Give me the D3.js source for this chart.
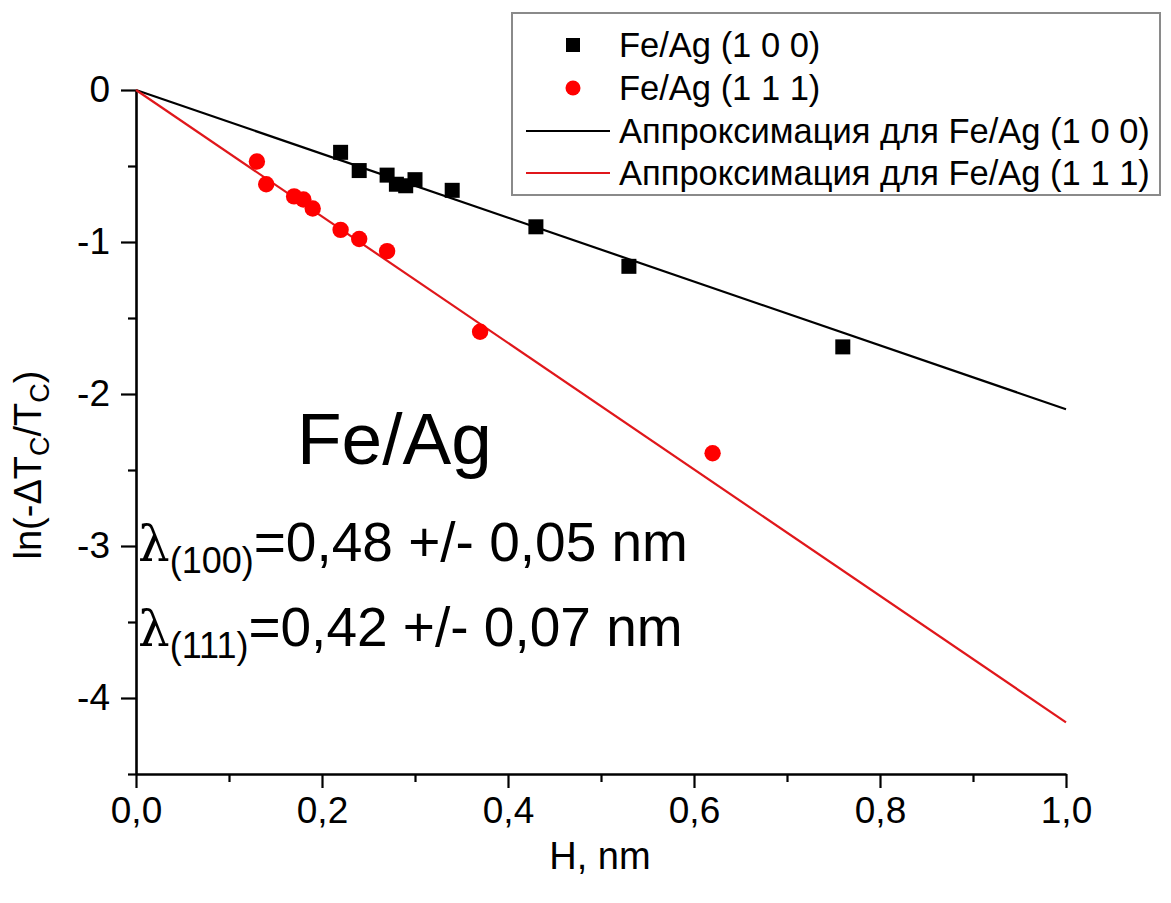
<!DOCTYPE html>
<html>
<head>
<meta charset="utf-8">
<script src="https://cdn.jsdelivr.net/npm/d3@7"></script>
<style>
  html, body { margin: 0; padding: 0; background: #fff; }
  svg { display: block; }
  text { font-family: "Liberation Sans", Arial, sans-serif; fill: #000; }
</style>
</head>
<body>
<svg id="chart" width="1171" height="903"></svg>
<script>
// ---- data ----
const h100 = [0.22, 0.24, 0.27, 0.28, 0.29, 0.30, 0.34, 0.43, 0.53, 0.76];
const ln100 = [-0.41, -0.53, -0.56, -0.62, -0.63, -0.59, -0.66, -0.90, -1.16, -1.69];
const h111 = [0.13, 0.14, 0.17, 0.18, 0.19, 0.22, 0.24, 0.27, 0.37, 0.62];
const ln111 = [-0.47, -0.62, -0.70, -0.72, -0.78, -0.92, -0.98, -1.06, -1.59, -2.39];
const fitX = [0, 1];
const fit100 = [0, -2.10];
const fit111 = [0, -4.16];
const xTicks = [0, 0.2, 0.4, 0.6, 0.8, 1.0];
const xTickLabels = ["0,0", "0,2", "0,4", "0,6", "0,8", "1,0"];
const yTicks = [0, -1, -2, -3, -4];
const yTickLabels = ["0", "-1", "-2", "-3", "-4"];
const legendLabels = ["Fe/Ag (1 0 0)", "Fe/Ag (1 1 1)", "Аппроксимация для Fe/Ag (1 0 0)", "Аппроксимация для Fe/Ag (1 1 1)"];
const colors = ["#000000", "#ff0000"];
const lineColors = ["#000000", "#e0171b"];

const svg = d3.select("#chart");
const L = 136, R = 1066, T = 90, B = 774;
const x = d3.scaleLinear().domain([0, 1]).range([L, R]);
const y = d3.scaleLinear().domain([-4.5, 0]).range([B, T]);

const fmtX = d => xTickLabels[xTicks.findIndex(t => Math.abs(t - d) < 1e-9)];
const fmtY = d => yTickLabels[yTicks.findIndex(t => Math.abs(t - d) < 1e-9)];

const xMinor = [0.1, 0.3, 0.5, 0.7, 0.9];
const yMinor = [-0.5, -1.5, -2.5, -3.5, -4.5];

const gx = svg.append("g").attr("transform", `translate(0,${B})`)
  .call(d3.axisBottom(x).tickValues(xTicks).tickFormat(fmtX).tickSize(14).tickSizeOuter(0).tickPadding(4));
svg.append("g").attr("transform", `translate(0,${B})`)
  .call(d3.axisBottom(x).tickValues(xMinor).tickFormat("").tickSize(8).tickSizeOuter(0))
  .select(".domain").remove();
const gy = svg.append("g").attr("transform", `translate(${L},0)`)
  .call(d3.axisLeft(y).tickValues(yTicks).tickFormat(fmtY).tickSize(15).tickSizeOuter(0).tickPadding(11));
svg.append("g").attr("transform", `translate(${L},0)`)
  .call(d3.axisLeft(y).tickValues(yMinor).tickFormat("").tickSize(8).tickSizeOuter(0))
  .select(".domain").remove();

svg.selectAll(".domain").attr("stroke", "#000").attr("stroke-width", 2.6);
svg.selectAll(".tick line").attr("stroke", "#000").attr("stroke-width", 2.2);
gx.selectAll(".tick text").attr("font-size", 37).attr("font-family", "Liberation Sans, Arial, sans-serif").attr("dy", "0.85em");
gy.selectAll(".tick text").attr("font-size", 37).attr("font-family", "Liberation Sans, Arial, sans-serif");

// fit lines
const line = d3.line().x(d => x(d[0])).y(d => y(d[1]));
svg.append("path").datum(fitX.map((v, i) => [v, fit100[i]]))
  .attr("d", line).attr("fill", "none").attr("stroke", lineColors[0]).attr("stroke-width", 2.2);
svg.append("path").datum(fitX.map((v, i) => [v, fit111[i]]))
  .attr("d", line).attr("fill", "none").attr("stroke", lineColors[1]).attr("stroke-width", 2.2);

// markers
const sq = 15;
svg.append("g").selectAll("rect").data(h100.map((v, i) => [v, ln100[i]])).join("rect")
  .attr("x", d => x(d[0]) - sq / 2).attr("y", d => y(d[1]) - sq / 2)
  .attr("width", sq).attr("height", sq).attr("fill", colors[0]);
svg.append("g").selectAll("circle").data(h111.map((v, i) => [v, ln111[i]])).join("circle")
  .attr("cx", d => x(d[0])).attr("cy", d => y(d[1])).attr("r", 8.2).attr("fill", colors[1]);

// axis titles
svg.append("text").attr("x", (L + R) / 2 - 1).attr("y", 869).attr("text-anchor", "middle")
  .attr("font-size", 38).text("H, nm");

const yl = svg.append("text").attr("transform", "translate(41,465) rotate(-90)")
  .attr("text-anchor", "middle").attr("font-size", 38);
yl.append("tspan").text("ln(-ΔT");
yl.append("tspan").attr("font-size", 27).attr("dy", 8).text("C");
yl.append("tspan").attr("dy", -8).text("/T");
yl.append("tspan").attr("font-size", 27).attr("dy", 8).text("C");
yl.append("tspan").attr("dy", -8).text(")");

// annotations
svg.append("text").attr("x", 297).attr("y", 464).attr("font-size", 73).text("Fe/Ag");

function lambdaLine(yy, sub, rest) {
  const t = svg.append("text").attr("x", 138).attr("y", yy).attr("font-size", 55);
  t.append("tspan").attr("font-family", "DejaVu Serif, serif").attr("font-size", 50).text("λ");
  t.append("tspan").attr("font-size", 36).attr("dy", 12).text(sub);
  t.append("tspan").attr("dy", -12).text(rest);
}
lambdaLine(561, "(100)", "=0,48 +/- 0,05 nm");
lambdaLine(646, "(111)", "=0,42 +/- 0,07 nm");

// legend
const lg = svg.append("g");
lg.append("rect").attr("x", 512).attr("y", 13).attr("width", 648).attr("height", 182)
  .attr("fill", "#fff").attr("stroke", "#8a8a8a").attr("stroke-width", 2);
const rowY = [45, 88, 131, 173];
lg.append("rect").attr("x", 573 - 7).attr("y", rowY[0] - 7).attr("width", 14).attr("height", 14).attr("fill", colors[0]);
lg.append("circle").attr("cx", 573).attr("cy", rowY[1]).attr("r", 7.5).attr("fill", colors[1]);
lg.append("line").attr("x1", 526).attr("x2", 610).attr("y1", rowY[2]).attr("y2", rowY[2]).attr("stroke", lineColors[0]).attr("stroke-width", 2);
lg.append("line").attr("x1", 526).attr("x2", 610).attr("y1", rowY[3]).attr("y2", rowY[3]).attr("stroke", lineColors[1]).attr("stroke-width", 2);
lg.selectAll("text.lt").data(legendLabels).join("text").attr("class", "lt")
  .attr("x", 619).attr("y", (d, i) => rowY[i] + 12).attr("font-size", 34.5).text(d => d);
</script>
</body>
</html>
